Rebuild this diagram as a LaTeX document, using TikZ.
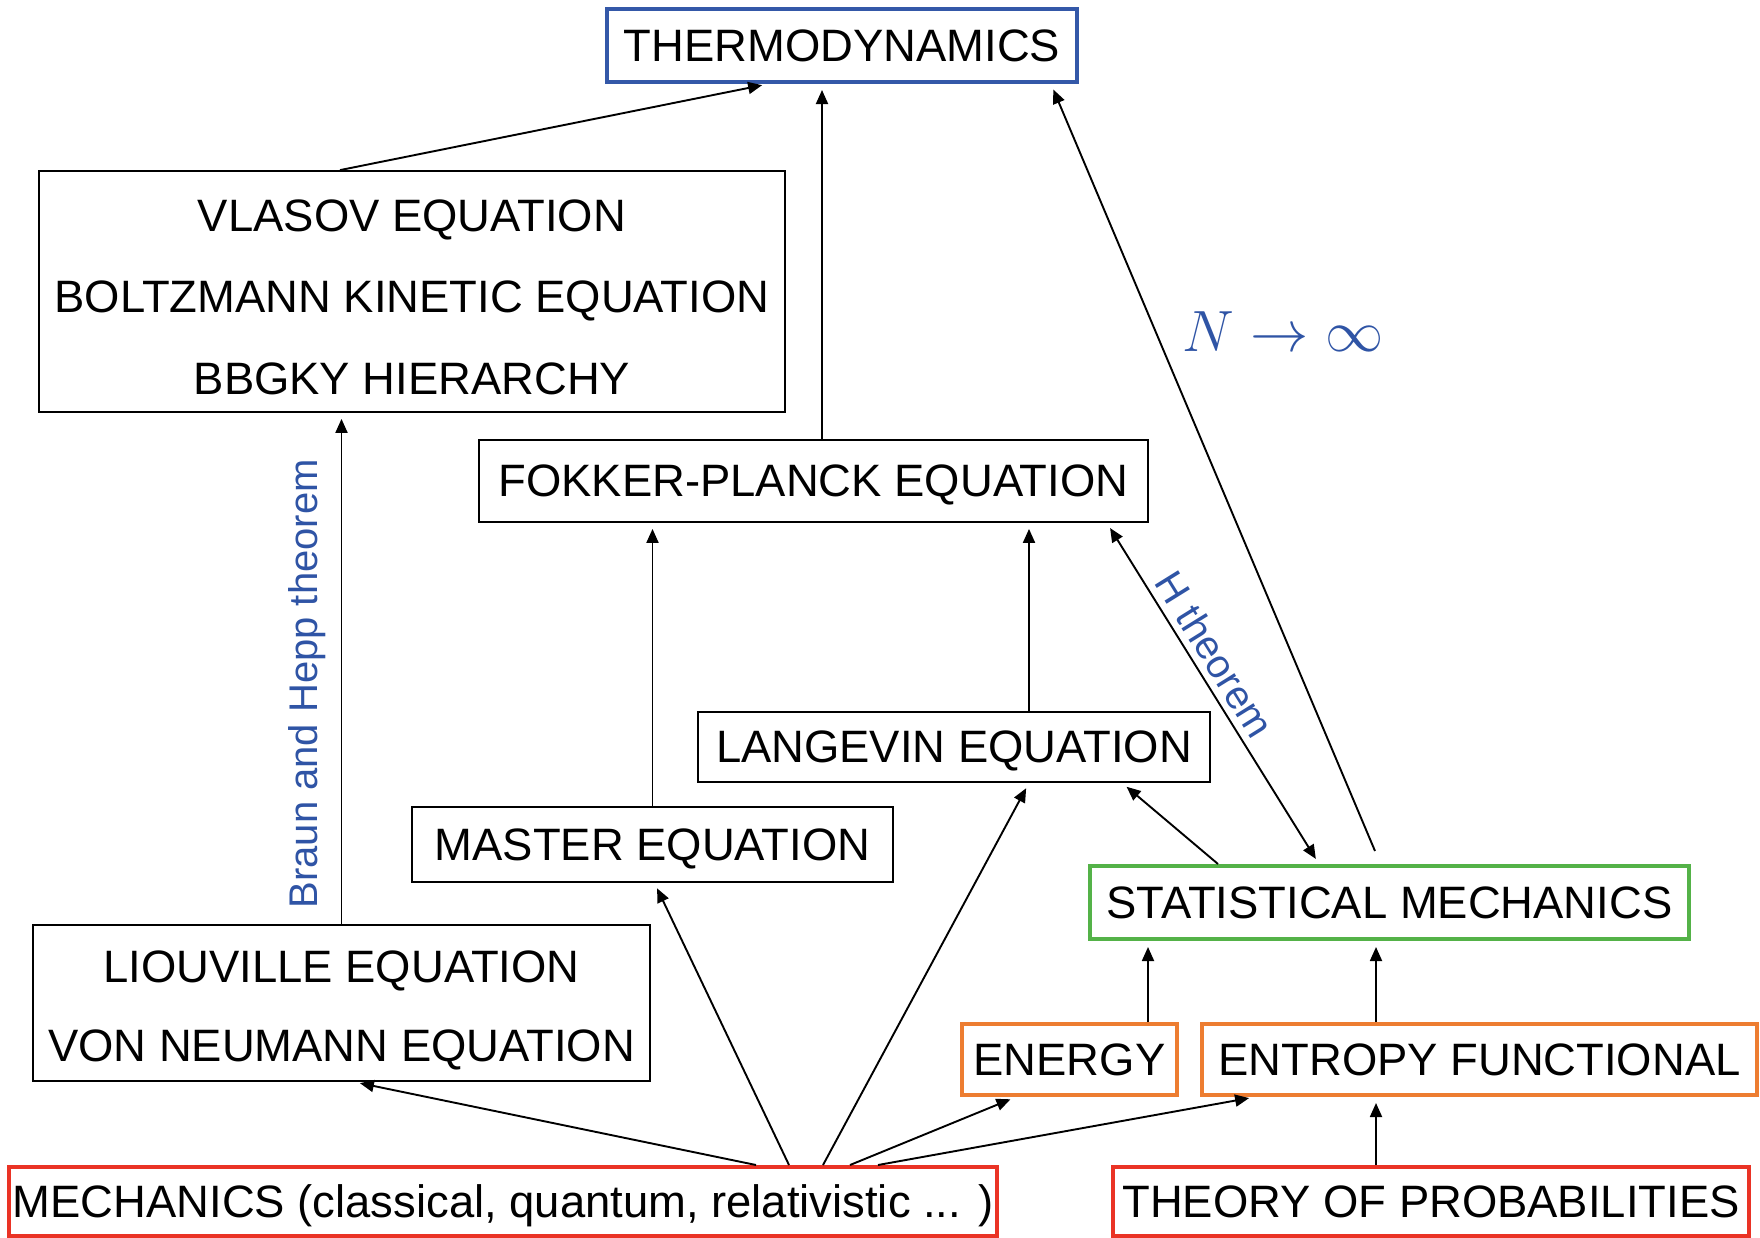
\documentclass[tikz,border=0pt]{standalone}
\usepackage{fontspec}
\setmainfont{Liberation Sans}
\usetikzlibrary{arrows.meta}
\definecolor{thermoblue}{RGB}{52,88,168}
\definecolor{labelblue}{RGB}{47,84,165}
\definecolor{statgreen}{RGB}{84,178,72}
\definecolor{energyorange}{RGB}{237,125,49}
\definecolor{mechred}{RGB}{234,51,37}
\begin{document}
\begin{tikzpicture}[x=0.5pt, y=-0.5pt,
		box/.style={draw, line width=0.9pt, inner sep=0pt, text depth=0pt, font=\fontsize{22.7}{27}\selectfont},
		cbox/.style={box, line width=2pt},
		lbl/.style={text=labelblue, font=\fontsize{20}{24}\selectfont},
		conn/.style={-{Triangle[length=7pt,width=6pt]}, line width=0.95pt, shorten >=3pt},
		dconn/.style={conn, {Triangle[length=7pt,width=6pt]}-{Triangle[length=7pt,width=6pt]}, shorten <=3pt}]
	\useasboundingbox (0,0) rectangle (1760,1237);
	\node[cbox, draw=thermoblue, minimum width=235pt, minimum height=36.5pt] (thermo) at (842,45.5) {THERMODYNAMICS};
	\node[box, align=center, font=\fontsize{22.7}{40.75}\selectfont, text height=102.5pt, minimum width=373pt, minimum height=120.5pt] (kinetic) at (412,291.5) {VLASOV EQUATION\\BOLTZMANN KINETIC EQUATION\\BBGKY HIERARCHY};
	\node[box, minimum width=334.5pt, minimum height=41pt] (fokker) at (813.5,481) {FOKKER-PLANCK EQUATION};
	\node[box, minimum width=256pt, minimum height=35pt] (langevin) at (954,747) {LANGEVIN EQUATION};
	\node[box, minimum width=240.5pt, minimum height=37.5pt] (master) at (652.5,844.5) {MASTER EQUATION};
	\node[cbox, draw=statgreen, minimum width=299.5pt, minimum height=36.5pt] (statmech) at (1389.5,902.5) {STATISTICAL MECHANICS};
	\node[box, align=center, font=\fontsize{22.7}{39.5}\selectfont, text height=58pt, minimum width=308.5pt, minimum height=78pt] (liouville) at (341.5,1003) {LIOUVILLE EQUATION\\VON NEUMANN EQUATION};
	\node[cbox, draw=energyorange, minimum width=107.5pt, minimum height=35.5pt] (energy) at (1069.5,1059.5) {ENERGY};
	\node[cbox, draw=energyorange, minimum width=277.5pt, minimum height=35.5pt] (entropy) at (1479.5,1059.5) {ENTROPY FUNCTIONAL};
	\node[cbox, draw=mechred, minimum width=494pt, minimum height=34.5pt] (mechanics) at (503,1201.5) {MECHANICS (classical, quantum, relativistic ... )};
	\node[cbox, draw=mechred, minimum width=318pt, minimum height=34.5pt] (probab) at (1431,1201.5) {THEORY OF PROBABILITIES};
	\node[text=labelblue, font=\fontsize{24.88}{30}\selectfont, scale=1.17] (nlimit) at (1283,332) {$N\rightarrow\infty$};
	\draw[conn] ([xshift=-36pt]kinetic.north) -- ([xshift=-37pt]thermo.south);
	\draw[conn] ([xshift=4.25pt]fokker.north) -- ([xshift=4.25pt]fokker.north |- thermo.south);
	\draw[conn] ([xshift=-7.25pt,yshift=6.5pt]statmech.north) -- ([xshift=-14pt]thermo.south east);
	\draw[conn] (liouville.north) -- node[lbl, sloped, above=4pt, pos=0.47] (braun) {Braun and Hepp theorem} (liouville.north |- kinetic.south);
	\draw[conn] (master.north) -- (master.north |- fokker.south);
	\draw[conn] ([xshift=37.5pt]langevin.north) -- ([xshift=37.5pt]langevin.north |- fokker.south);
	\draw[dconn] ([xshift=-21pt]fokker.south east) -- node[lbl, sloped, above, pos=0.42] (htheorem) {H theorem} ([xshift=-35.25pt]statmech.north);
	\draw[conn] ([xshift=-85.75pt]statmech.north) -- ([xshift=84pt]langevin.south);
	\draw[conn] ([xshift=39.25pt]energy.north) -- ([xshift=39.25pt]energy.north |- statmech.south);
	\draw[conn] ([xshift=-51.75pt]entropy.north) -- ([xshift=-51.75pt]entropy.north |- statmech.south);
	\draw[conn] ([xshift=-27.5pt]probab.north) -- ([xshift=-27.5pt]probab.north |- entropy.south);
	\draw[conn] ([xshift=126.5pt]mechanics.north) -- ([xshift=6.25pt]liouville.south);
	\draw[conn] ([xshift=143pt]mechanics.north) -- ([xshift=1pt]master.south);
	\draw[conn] ([xshift=160pt]mechanics.north) -- ([xshift=37.5pt]langevin.south);
	\draw[conn] ([xshift=173.5pt]mechanics.north) -- ([xshift=28pt]energy.south west);
	\draw[conn] ([xshift=187.5pt]mechanics.north) -- ([xshift=27.5pt]entropy.south west);
\end{tikzpicture}
\end{document}
